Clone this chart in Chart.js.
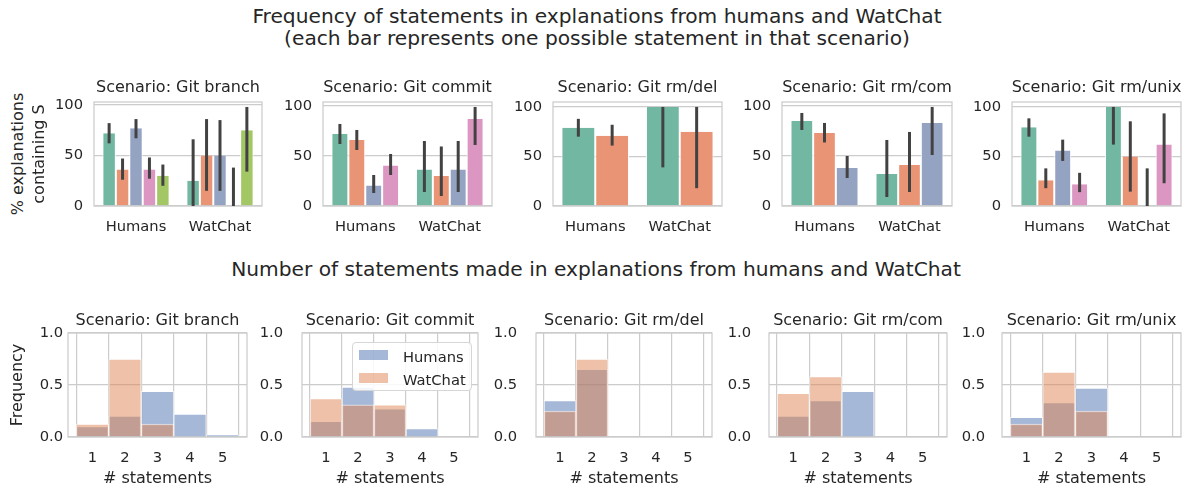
<!DOCTYPE html>
<html>
<head>
<meta charset="utf-8">
<script src="https://cdn.jsdelivr.net/npm/chart.js@4.4.0/dist/chart.umd.min.js"></script>
<style>
  body { margin: 0; background: #fff; }
  #fig { position: relative; width: 1192px; height: 488px; overflow: hidden;
         font-family: "DejaVu Sans", sans-serif; color: #262626; background: #fff; }
  #fig canvas { position: absolute; display: block; }
  .txt { position: absolute; white-space: nowrap; line-height: 1; transform: translate(-50%, -50%); }
  .legend { position: absolute; background: rgba(255,255,255,0.85); border: 1px solid #d6d6d6;
            border-radius: 4px; box-sizing: border-box; }
  .legend .row { position: absolute; left: 6px; font-size: 14.7px; line-height: 1; }
  .legend .sw { position: absolute; left: 0; width: 29px; height: 10px; }
  .legend .lab { position: absolute; left: 44px; white-space: nowrap; }
</style>
</head>
<body>
<div id="fig"></div>
<script>
// --- data ---

const groups = ['Humans', 'WatChat'];
const scenarios = ['Git branch', 'Git commit', 'Git rm/del', 'Git rm/com', 'Git rm/unix'];
const hueColors = ['#71b7a1', '#e99575', '#95a3c3', '#db96c1', '#a2c764'];

// % explanations containing each statement, per statement: [Humans, WatChat]
const branchPct = [[72, 25], [36, 50], [77, 50], [36, 0], [30, 75]];
const branchLo  = [[62, 0], [26, 15], [67, 15], [27, 0], [20, 34]];
const branchHi  = [[82, 66], [47, 86], [86, 85], [48, 38], [41, 98]];

const commitPct = [[72, 36.5], [66, 30], [20.5, 36.5], [40.5, 87]];
const commitLo  = [[62, 14], [56, 10], [13, 14], [31, 61]];
const commitHi  = [[82, 65], [76, 59.5], [31, 65], [52, 99]];

const rmDelPct = [[79, 100], [71, 75]];
const rmDelLo  = [[70, 39], [61, 18]];
const rmDelHi  = [[88, 100], [82, 100]];

const rmComPct = [[85, 32], [73, 41], [38, 83]];
const rmComLo  = [[76, 9], [63.5, 14], [28, 51]];
const rmComHi  = [[93, 66], [83, 74], [50, 99]];

const rmUnixPct = [[79.5, 100], [26, 50], [56, 0], [22, 62]];
const rmUnixLo  = [[70, 62], [18, 14.5], [45.5, 0], [14, 23]];
const rmUnixHi  = [[88.5, 100], [38, 85.5], [67, 38], [33.5, 93.5]];

// histogram of number of statements
const countBins = [1, 2, 3, 4, 5];
const branchHumans  = [0.10, 0.20, 0.44, 0.22, 0.02];
const branchWatChat = [0.125, 0.75, 0.125, 0, 0];
const commitHumans  = [0.15, 0.48, 0.27, 0.08, 0];
const commitWatChat = [0.37, 0.31, 0.31, 0, 0];
const rmDelHumans   = [0.35, 0.65, 0, 0, 0];
const rmDelWatChat  = [0.25, 0.75, 0, 0, 0];
const rmComHumans   = [0.20, 0.35, 0.44, 0, 0];
const rmComWatChat  = [0.42, 0.58, 0, 0, 0];
const rmUnixHumans  = [0.19, 0.33, 0.47, 0, 0];
const rmUnixWatChat = [0.125, 0.625, 0.25, 0, 0];

const pctTicks = [0, 50, 100];
const freqTicks = [0, 0.5, 1.0];

const topSets = [
  [branchPct, branchLo, branchHi],
  [commitPct, commitLo, commitHi],
  [rmDelPct, rmDelLo, rmDelHi],
  [rmComPct, rmComLo, rmComHi],
  [rmUnixPct, rmUnixLo, rmUnixHi],
];
const botSets = [
  [branchHumans, branchWatChat],
  [commitHumans, commitWatChat],
  [rmDelHumans, rmDelWatChat],
  [rmComHumans, rmComWatChat],
  [rmUnixHumans, rmUnixWatChat],
];

// --- layout (axes boxes in page px) ---
const topBoxes = [[94, 262], [323, 492], [553, 722], [782, 952], [1012, 1181]];
const topRow = [102, 206];
const botBoxes = [[68, 247], [302, 478], [536, 712], [769, 947], [1002, 1181]];
const botRow = [333, 437];
const botYPad = [5, 19, 19, 18, 17];

const fig = document.getElementById('fig');
const GRID = '#cccccc';
const TICK_SIZE = 14.7;

Chart.defaults.font.family = '"DejaVu Sans", sans-serif';
Chart.defaults.color = '#262626';

function place(text, x, y, size, rotate) {
  const d = document.createElement('div');
  d.className = 'txt';
  d.textContent = text;
  d.style.left = x + 'px';
  d.style.top = y + 'px';
  d.style.fontSize = size + 'px';
  if (rotate) d.style.transform = 'translate(-50%, -50%) rotate(-90deg)';
  fig.appendChild(d);
}

const framePlugin = {
  id: 'frame',
  afterDatasetsDraw(chart) {
    const a = chart.chartArea, ctx = chart.ctx;
    ctx.save();
    ctx.strokeStyle = GRID;
    ctx.lineWidth = 1.25;
    ctx.strokeRect(a.left, a.top, a.right - a.left, a.bottom - a.top);
    ctx.restore();
  }
};

const errPlugin = {
  id: 'errbars',
  afterDatasetsDraw(chart) {
    const ctx = chart.ctx, ys = chart.scales.y;
    chart.data.datasets.forEach((ds, i) => {
      if (!ds.errLo) return;
      chart.getDatasetMeta(i).data.forEach((bar, j) => {
        ctx.save();
        ctx.strokeStyle = '#424242';
        ctx.lineWidth = 3;
        ctx.beginPath();
        ctx.moveTo(bar.x, ys.getPixelForValue(ds.errLo[j]));
        ctx.lineTo(bar.x, ys.getPixelForValue(ds.errHi[j]));
        ctx.stroke();
        ctx.restore();
      });
    });
  }
};

// padT is generous so chart.js tick padding never pushes the plot area down
function panel(l, r, t, b, yW, xH, config) {
  const padT = 34, padR = 4;
  const c = document.createElement('canvas');
  c.width = r - l + yW + padR;
  c.height = b - t + padT + xH;
  c.style.left = (l - yW) + 'px';
  c.style.top = (t - padT) + 'px';
  fig.appendChild(c);
  const o = config.options;
  o.responsive = false;
  o.animation = false;
  o.devicePixelRatio = 1;
  o.layout = { padding: { top: padT, right: padR, left: 0, bottom: 0 } };
  o.plugins = { legend: { display: false }, tooltip: { enabled: false } };
  o.scales.y.afterFit = s => { s.width = yW; };
  o.scales.x.afterFit = s => { s.height = xH; };
  config.plugins = [framePlugin, errPlugin];
  return new Chart(c, config);
}

// --- top row: grouped bars with error bars ---
topSets.forEach(([pct, lo, hi], k) => {
  const [l, r] = topBoxes[k];
  const ymax = Math.max(...hi.flat()) * 1.05;
  const datasets = pct.map((vals, s) => ({
    data: vals,
    errLo: lo[s],
    errHi: hi[s],
    backgroundColor: hueColors[s],
    borderColor: '#ffffff',
    borderWidth: { left: 1, right: 1, top: 0, bottom: 0 },
    categoryPercentage: 0.8,
    barPercentage: 1.0,
  }));
  panel(l, r, topRow[0], topRow[1], 60, 40, {
    type: 'bar',
    data: { labels: groups, datasets },
    options: {
      scales: {
        x: {
          grid: { display: false, drawTicks: false },
          border: { display: false },
          ticks: { font: { size: TICK_SIZE }, padding: 12 },
        },
        y: {
          min: 0, max: ymax,
          afterBuildTicks: s => { s.ticks = pctTicks.map(v => ({ value: v })); },
          grid: { color: GRID, lineWidth: 1.2, drawTicks: false },
          border: { display: false },
          ticks: { font: { size: TICK_SIZE }, padding: 11, callback: v => String(v) },
        },
      },
    },
  });
  place('Scenario: ' + scenarios[k], (l + r) / 2, 87, 16);
});

// --- bottom row: overlaid histograms ---
botSets.forEach(([hum, wat], k) => {
  const [l, r] = botBoxes[k];
  const toPts = arr => countBins.map((b, i) => ({ x: b, y: arr[i] }));
  panel(l, r, botRow[0], botRow[1], 70, 40, {
    type: 'bar',
    data: {
      datasets: [
        { label: 'WatChat', data: toPts(wat), backgroundColor: 'rgba(221,132,82,0.5)' },
        { label: 'Humans', data: toPts(hum), backgroundColor: 'rgba(76,114,176,0.5)' },
      ],
    },
    options: {
      datasets: {
        bar: {
          grouped: false, barPercentage: 1, categoryPercentage: 1,
          borderColor: 'rgba(255,255,255,0.6)', borderWidth: 1, borderSkipped: 'start',
        },
      },
      scales: {
        x: {
          type: 'linear', min: 0.25, max: 5.75, offset: false,
          afterBuildTicks: s => { s.ticks = countBins.map(v => ({ value: v })); },
          grid: { color: GRID, lineWidth: 1.2, drawTicks: false },
          border: { display: false },
          ticks: { font: { size: TICK_SIZE }, padding: 12, callback: v => String(v) },
        },
        y: {
          min: 0, max: 1,
          afterBuildTicks: s => { s.ticks = freqTicks.map(v => ({ value: v })); },
          grid: { color: GRID, lineWidth: 1.2, drawTicks: false },
          border: { display: false },
          ticks: { font: { size: TICK_SIZE }, padding: botYPad[k], callback: v => v.toFixed(1) },
        },
      },
    },
  });
  place('Scenario: ' + scenarios[k], (l + r) / 2, 320, 16);
  place('# statements', (l + r) / 2, 478, 16);
});

// --- titles and axis labels ---
place('Frequency of statements in explanations from humans and WatChat', 597, 16, 20.2);
place('(each bar represents one possible statement in that scenario)', 597, 38, 20.2);
place('Number of statements made in explanations from humans and WatChat', 596, 269, 20.2);
place('% explanations', 18, 154, 16, true);
place('containing S', 39, 154, 16, true);
place('Frequency', 17, 385, 16, true);

// legend inside second histogram
const leg = document.createElement('div');
leg.className = 'legend';
leg.style.left = '352px'; leg.style.top = '342px';
leg.style.width = '120px'; leg.style.height = '49px';
[['Humans', 'rgba(76,114,176,0.5)', 7], ['WatChat', 'rgba(221,132,82,0.5)', 30]].forEach(([name, col, y]) => {
  const row = document.createElement('div');
  row.className = 'row';
  row.style.top = y + 'px';
  row.innerHTML = `<div class="sw" style="background:${col}"></div><div class="lab">${name}</div>`;
  leg.appendChild(row);
});
fig.appendChild(leg);
</script>
</body>
</html>
